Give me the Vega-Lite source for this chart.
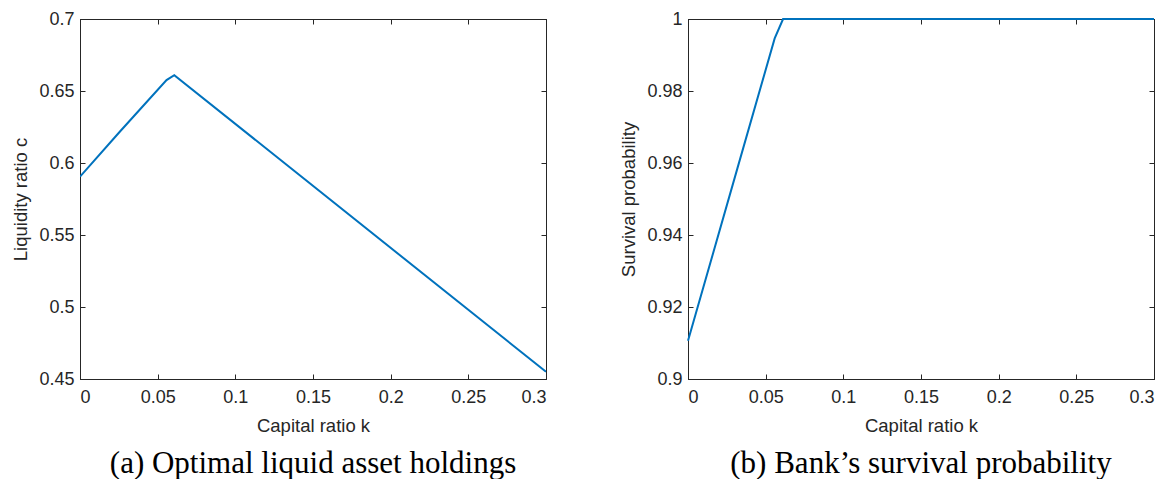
{
  "$schema": "https://vega.github.io/schema/vega-lite/v6.json",
  "padding": {"left": 11, "top": 9, "right": 0, "bottom": 0},
  "background": "white",
  "bounds": "flush",
  "spacing": 142,
  "config": {
    "view": {"stroke": "#262626", "strokeWidth": 1},
    "font": "Liberation Sans",
    "axis": {
      "domainColor": "#262626", "tickColor": "#262626", "labelColor": "#262626", "titleColor": "#262626",
      "grid": false, "tickSize": -5, "labelFontSize": 18, "titleFontSize": 18.5, "titleFontWeight": "normal",
      "labelFont": "Liberation Sans", "titleFont": "Liberation Sans", "labelPadding": 11, "format": "~g"
    },
    "axisBottom": {"labelPadding": 14},
    "title": {"font": "Liberation Serif", "fontSize": 31, "fontWeight": "normal", "color": "black", "orient": "bottom", "anchor": "middle", "offset": 14}
  },
  "datasets": {
    "liq": [
      {"k": 0.0, "c": 0.5905},
      {"k": 0.0256, "c": 0.6217},
      {"k": 0.0557, "c": 0.6576},
      {"k": 0.0607, "c": 0.661},
      {"k": 0.3, "c": 0.455}
    ],
    "surv": [
      {"k": 0.0, "p": 0.9106},
      {"k": 0.0318, "p": 0.9585},
      {"k": 0.0558, "p": 0.9946},
      {"k": 0.0612, "p": 1.0},
      {"k": 0.3, "p": 1.0}
    ]
  },
  "hconcat": [
    {
      "width": 466, "height": 360,
      "title": "(a) Optimal liquid asset holdings",
      "data": {"name": "liq"},
      "resolve": {"axis": {"x": "independent", "y": "independent"}},
      "layer": [
        {
          "mark": {"type": "line", "color": "#0072BD", "strokeWidth": 2, "clip": true},
          "encoding": {
            "x": {"field": "k", "type": "quantitative", "scale": {"domain": [0, 0.3], "nice": false}, "axis": {"title": "Capital ratio k", "values": [0, 0.05, 0.1, 0.15, 0.2, 0.25, 0.3], "orient": "bottom", "titlePadding": 10}},
            "y": {"field": "c", "type": "quantitative", "scale": {"domain": [0.45, 0.7], "nice": false, "zero": false}, "axis": {"title": "Liquidity ratio c", "values": [0.45, 0.5, 0.55, 0.6, 0.65, 0.7], "orient": "left", "titlePadding": 8}}
          }
        },
        {
          "mark": {"type": "line", "opacity": 0},
          "encoding": {
            "x": {"field": "k", "type": "quantitative", "axis": {"title": null, "labels": false, "orient": "top", "values": [0, 0.05, 0.1, 0.15, 0.2, 0.25, 0.3]}},
            "y": {"field": "c", "type": "quantitative", "axis": {"title": null, "labels": false, "orient": "right", "values": [0.45, 0.5, 0.55, 0.6, 0.65, 0.7]}}
          }
        }
      ]
    },
    {
      "width": 466, "height": 360,
      "title": "(b) Bank’s survival probability",
      "data": {"name": "surv"},
      "resolve": {"axis": {"x": "independent", "y": "independent"}},
      "layer": [
        {
          "mark": {"type": "line", "color": "#0072BD", "strokeWidth": 2, "clip": false},
          "encoding": {
            "x": {"field": "k", "type": "quantitative", "scale": {"domain": [0, 0.3], "nice": false}, "axis": {"title": "Capital ratio k", "values": [0, 0.05, 0.1, 0.15, 0.2, 0.25, 0.3], "orient": "bottom", "titlePadding": 10}},
            "y": {"field": "p", "type": "quantitative", "scale": {"domain": [0.9, 1.0], "nice": false, "zero": false}, "axis": {"title": "Survival probability", "values": [0.9, 0.92, 0.94, 0.96, 0.98, 1.0], "orient": "left", "titlePadding": 8}}
          }
        },
        {
          "mark": {"type": "line", "opacity": 0},
          "encoding": {
            "x": {"field": "k", "type": "quantitative", "axis": {"title": null, "labels": false, "orient": "top", "values": [0, 0.05, 0.1, 0.15, 0.2, 0.25, 0.3]}},
            "y": {"field": "p", "type": "quantitative", "axis": {"title": null, "labels": false, "orient": "right", "values": [0.9, 0.92, 0.94, 0.96, 0.98, 1.0]}}
          }
        }
      ]
    }
  ]
}
